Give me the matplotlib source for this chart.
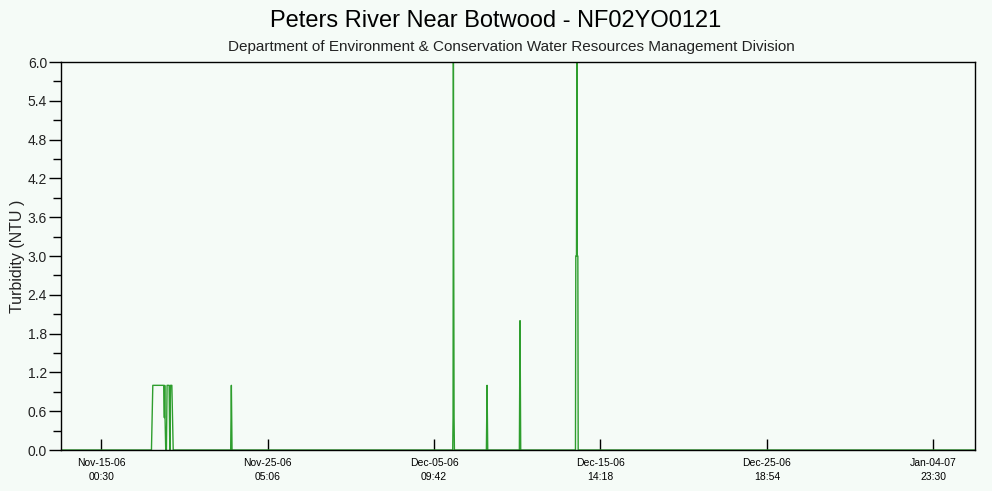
import matplotlib
matplotlib.use("Agg")
import matplotlib.pyplot as plt
import matplotlib.dates as mdates
import numpy as np
import pandas as pd

plt.rcParams['font.family'] = ['Liberation Sans', 'DejaVu Sans']

# Turbidity readings (NTU), Peters River near Botwood
times = [
    "2006-11-12 13:00", "2006-11-18 02:00", "2006-11-18 03:00", "2006-11-18 04:00",
    "2006-11-18 20:00", "2006-11-18 21:00", "2006-11-18 21:30", "2006-11-18 22:00",
    "2006-11-18 23:00", "2006-11-19 00:00", "2006-11-19 01:00", "2006-11-19 04:00",
    "2006-11-19 05:00", "2006-11-19 06:00", "2006-11-19 08:00", "2006-11-19 09:00",
    "2006-11-19 10:00",
    "2006-11-22 22:30", "2006-11-22 23:00", "2006-11-22 23:30", "2006-11-23 00:00",
    "2006-11-23 00:30",
    "2006-12-06 13:00", "2006-12-06 13:30", "2006-12-06 14:00", "2006-12-06 14:30",
    "2006-12-06 15:00", "2006-12-06 15:30",
    "2006-12-08 14:30", "2006-12-08 15:00", "2006-12-08 15:30", "2006-12-08 16:00",
    "2006-12-08 16:30",
    "2006-12-10 15:00", "2006-12-10 15:30", "2006-12-10 16:00", "2006-12-10 16:30",
    "2006-12-10 17:00",
    "2006-12-14 01:30", "2006-12-14 02:00", "2006-12-14 03:00", "2006-12-14 03:30",
    "2006-12-14 04:00", "2006-12-14 05:00", "2006-12-14 05:30",
    "2007-01-07 13:00",
]
turbidity = [
    0.0, 0.0, 0.5, 1.0,
    1.0, 0.5, 1.0, 0.5,
    0.0, 0.0, 1.0, 1.0,
    0.0, 1.0, 1.0, 0.5,
    0.0,
    0.0, 0.5, 1.0, 0.5,
    0.0,
    0.0, 0.5, 6.0, 3.0,
    0.5, 0.0,
    0.0, 0.5, 1.0, 0.5,
    0.0,
    0.0, 1.0, 2.0, 1.0,
    0.0,
    0.0, 3.0, 3.0, 6.0,
    3.0, 3.0, 0.0,
    0.0,
]

tick_times = ["2006-11-15 00:30", "2006-11-25 05:06", "2006-12-05 09:42",
              "2006-12-15 14:18", "2006-12-25 18:54", "2007-01-04 23:30"]

x_start = "2006-11-12 13:00"
x_end = "2007-01-07 13:00"

bg = "#f5fbf7"
fig = plt.figure(figsize=(9.92, 4.91), dpi=100, facecolor=bg)
ax = fig.add_axes([61 / 992, 41 / 491, 914 / 992, 388 / 491], facecolor=bg)

t = pd.to_datetime(times)
ax.plot(t, turbidity, color="#2e9e2e", linewidth=1.0, zorder=2)

ax.set_xlim(pd.Timestamp(x_start), pd.Timestamp(x_end))
ax.set_ylim(0, 6.0)

ax.set_xticks(pd.to_datetime(tick_times))
ax.xaxis.set_major_formatter(mdates.DateFormatter("%b-%d-%y\n%H:%M"))
ax.set_yticks(np.arange(0, 6.01, 0.6))
ax.set_yticks(np.arange(0.3, 6.0, 0.6), minor=True)
ax.yaxis.set_major_formatter(matplotlib.ticker.FormatStrFormatter("%.1f"))

ax.tick_params(axis="x", direction="in", length=8, width=1, pad=6,
               labelsize=7.5, colors="black")
ax.tick_params(axis="y", which="major", direction="out", length=9, width=1,
               pad=1, labelsize=10, labelcolor="#222222")
ax.tick_params(axis="y", which="minor", direction="out", length=6, width=1)
for lbl in ax.get_xticklabels():
    lbl.set_linespacing(1.5)

for s in ax.spines.values():
    s.set_color("black")
    s.set_linewidth(1.0)
    s.set_zorder(3)

ax.set_ylabel("Turbidity (NTU )", fontsize=11.5, color="#222222", labelpad=2)

fig.text(0.5, 0.958, "Peters River Near Botwood - NF02YO0121",
         ha="center", va="center", fontsize=17, color="black")
fig.text(0.516, 0.904, "Department of Environment & Conservation Water Resources Management Division",
         ha="center", va="center", fontsize=11, color="#222222")

fig.savefig("out.png", dpi=100, facecolor=bg)
